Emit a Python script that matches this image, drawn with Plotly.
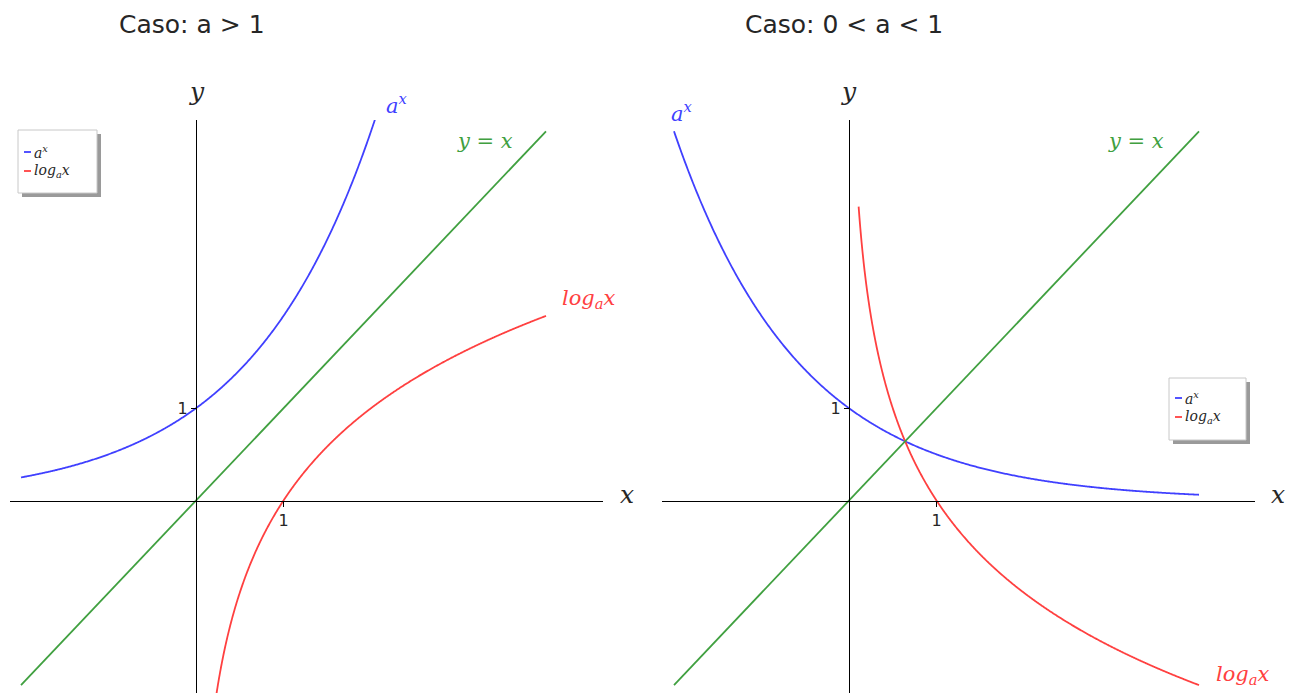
import numpy as np
import plotly.graph_objects as go

W, H = 1296, 693

# Bases of the two cases and the sampled domains
bases = [2.0, 0.5]
titles = ["Caso: a > 1", "Caso: 0 < a < 1"]
exp_domain = (-2.0, 2.1)        # range of x for a^x (a > 1 case), clipped at the top
exp_domain_small = (-2.0, 4.0)  # range of x for a^x (0 < a < 1 case)
log_domain = (0.11, 4.0)        # range of x for log_a x
id_domain = (-2.0, 4.0)         # range of x for y = x
tick_vals = [1]
tick_text = ["1"]

BLUE = "rgb(64,64,255)"
RED = "rgb(255,64,64)"
GREEN = "rgb(64,160,64)"
MATH_FONT = "DejaVu Serif"
TEXT = "#262626"


def px(x):
    return x / W


def py(y):
    return 1 - y / H


# panel geometry (pixels): axes box and where the origin sits
panels = [
    dict(left=10, right=603, origin_x=196),
    dict(left=662, right=1255, origin_x=849),
]
top, bottom, origin_y = 120, 693, 500.5
sx, sy = 87.5, 92.3

fig = go.Figure()
layout = dict(
    width=W, height=H, margin=dict(l=0, r=0, t=0, b=0),
    paper_bgcolor="white", plot_bgcolor="white", showlegend=False,
)

for i, (a, p) in enumerate(zip(bases, panels)):
    xa = "x" if i == 0 else "x2"
    ya = "y" if i == 0 else "y2"
    dom = exp_domain if a > 1 else exp_domain_small
    xe = np.linspace(dom[0], dom[1], 500)
    xl = np.linspace(log_domain[0], log_domain[1], 800)
    xi = np.array(id_domain)
    fig.add_trace(go.Scatter(x=xe, y=a ** xe, mode="lines", xaxis=xa, yaxis=ya,
                             line=dict(color=BLUE, width=1.8, simplify=False), name="a^x"))
    fig.add_trace(go.Scatter(x=xl, y=np.log(xl) / np.log(a), mode="lines", xaxis=xa, yaxis=ya,
                             line=dict(color=RED, width=1.8, simplify=False), name="log_a x"))
    fig.add_trace(go.Scatter(x=xi, y=xi, mode="lines", xaxis=xa, yaxis=ya,
                             line=dict(color=GREEN, width=1.8), name="y=x"))

    xr = [(p["left"] - p["origin_x"]) / sx, (p["right"] - p["origin_x"]) / sx]
    yr = [(origin_y - bottom) / sy, (origin_y - top) / sy]
    key = "" if i == 0 else "2"
    common = dict(
        anchor="free", showline=True, linecolor="black", linewidth=1.3,
        showgrid=False, zeroline=False, tickmode="array", tickvals=tick_vals,
        ticktext=tick_text, ticks="outside", ticklen=5, tickcolor="black",
        tickfont=dict(family="DejaVu Sans", size=16, color=TEXT), fixedrange=True,
    )
    layout["xaxis" + key] = dict(domain=[px(p["left"]), px(p["right"])], range=xr,
                                 position=py(origin_y), **common)
    layout["yaxis" + key] = dict(domain=[0, py(top)], range=yr,
                                 position=px(p["origin_x"]), **common)

fig.update_layout(**layout)

ann = []


def label(x, y, text, color, size=21, family=MATH_FONT):
    ann.append(dict(x=px(x), y=py(y), xref="paper", yref="paper", text=text,
                    showarrow=False, xanchor="center", yanchor="middle",
                    font=dict(family=family, size=size, color=color)))


AX = "<i>a</i><sup><i>x</i></sup>"
LOG = "<i>log</i><sub><i>a</i></sub><i>x</i>"
YX = "<i>y</i> = <i>x</i>"

# titles
label(192, 25, titles[0], TEXT, size=25, family="DejaVu Sans")
label(844, 25, titles[1], TEXT, size=25, family="DejaVu Sans")

# axis names
label(197, 92, "<i>y</i>", TEXT, size=25)
label(627, 494, "<i>x</i>", TEXT, size=25)
label(849, 92, "<i>y</i>", TEXT, size=25)
label(1278, 494, "<i>x</i>", TEXT, size=25)

# curve labels
label(397, 104, AX, BLUE)
label(485, 141, YX, GREEN)
label(589, 299, LOG, RED)
label(682, 112, AX, BLUE)
label(1136, 141, YX, GREEN)
label(1243, 675, LOG, RED)

shapes = []


def legend_box(x0, y0, x1, y1, rows):
    # drop shadow then the framed box
    shapes.append(dict(type="rect", xref="paper", yref="paper", x0=px(x0 + 4), x1=px(x1 + 4),
                       y0=py(y1 + 4), y1=py(y0 + 4), fillcolor="#9a9a9a", line=dict(width=0),
                       layer="above"))
    shapes.append(dict(type="rect", xref="paper", yref="paper", x0=px(x0), x1=px(x1),
                       y0=py(y1), y1=py(y0), fillcolor="white",
                       line=dict(color="#c8c8c8", width=1), layer="above"))
    for yy, color, text in rows:
        shapes.append(dict(type="line", xref="paper", yref="paper", x0=px(x0 + 6), x1=px(x0 + 13),
                           y0=py(yy), y1=py(yy), line=dict(color=color, width=1.8), layer="above"))
        ann.append(dict(x=px(x0 + 14), y=py(yy), xref="paper", yref="paper", text=text,
                        showarrow=False, xanchor="left", yanchor="middle",
                        font=dict(family=MATH_FONT, size=14, color=TEXT)))


legend_box(18, 130, 97, 193, [(152, BLUE, AX), (171, RED, LOG)])
legend_box(1169, 378, 1246, 440, [(398, BLUE, AX), (417, RED, LOG)])

fig.update_layout(annotations=ann, shapes=shapes)
fig.write_html("out.html")
